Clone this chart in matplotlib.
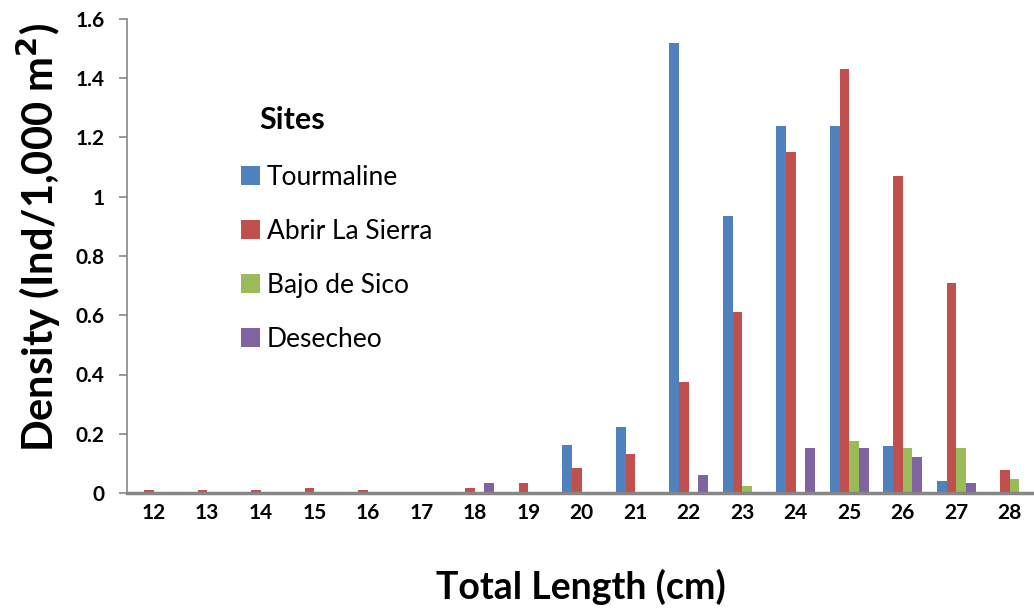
import numpy as np
import matplotlib
matplotlib.use("Agg")
import matplotlib.pyplot as plt
from matplotlib.ticker import FuncFormatter

# data
lengths = [12, 13, 14, 15, 16, 17, 18, 19, 20, 21, 22, 23, 24, 25, 26, 27, 28]
tourmaline = [0, 0, 0, 0, 0, 0, 0, 0, 0.162, 0.222, 1.52, 0.935, 1.24, 1.24, 0.16, 0.04, 0]
abrir = [0.01, 0.01, 0.01, 0.017, 0.01, 0, 0.017, 0.033, 0.085, 0.13, 0.375, 0.61, 1.15, 1.43, 1.07, 0.71, 0.078]
bajo = [0, 0, 0, 0, 0, 0, 0, 0, 0, 0, 0, 0.025, 0, 0.175, 0.153, 0.153, 0.048]
desecheo = [0, 0, 0, 0, 0, 0, 0.033, 0, 0, 0, 0.062, 0, 0.153, 0.153, 0.123, 0.033, 0]

series = [
    ("Tourmaline", tourmaline, "#4F81BD"),
    ("Abrir La Sierra", abrir, "#C0504D"),
    ("Bajo de Sico", bajo, "#9BBB59"),
    ("Desecheo", desecheo, "#8064A2"),
]

plt.rcParams["font.family"] = ["Lato", "DejaVu Sans"]

W, H = 1034, 611
fig = plt.figure(figsize=(W / 100, H / 100), dpi=100)
ax = fig.add_axes([127 / W, 1 - 493 / H, (W - 127) / W, 474 / H])

x = np.arange(len(lengths))
w = 1 / 5.5
for i, (name, vals, col) in enumerate(series):
    ax.bar(x + (i - 1.5) * w, vals, width=w, color=col, label=name)

ax.set_xlim(-0.5, -0.5 + (W - 127) / 53.5)
ax.set_ylim(0, 1.6)
ax.set_yticks(np.arange(0, 1.61, 0.2))
ax.yaxis.set_major_formatter(FuncFormatter(lambda v, p: f"{v:g}"))
ax.set_xticks(x)
ax.set_xticklabels([str(v) for v in lengths])

for s in ["top", "right"]:
    ax.spines[s].set_visible(False)
ax.spines["left"].set_color("#868686")
ax.spines["bottom"].set_color("#868686")
ax.spines["left"].set_linewidth(1.2)
ax.spines["bottom"].set_linewidth(2.5)
ax.tick_params(axis="y", length=6, color="#868686", width=1.2, pad=10, labelsize=15)
ax.tick_params(axis="x", length=0, pad=7, labelsize=15)
for lab in ax.get_xticklabels() + ax.get_yticklabels():
    lab.set_fontweight("bold")

ax.set_ylabel("Density (Ind/1,000 m$^\\mathbf{2}$)", fontsize=30, fontweight="bold",
              va="center")
ax.yaxis.set_label_coords(-0.098, 0.54)
ax.set_xlabel("Total Length (cm)", fontsize=27, fontweight="bold", labelpad=33)

leg = ax.legend(loc="upper left", bbox_to_anchor=(241 / W, 1 - 165 / H),
                bbox_transform=fig.transFigure, frameon=False, fontsize=19,
                borderpad=0, borderaxespad=0,
                handlelength=0.72, handleheight=0.72, handletextpad=0.25, labelspacing=1.1)
fig.text(259 / W, 1 - 120 / H, "Sites", fontsize=22, fontweight="bold", va="center", ha="left")

fig.savefig("out.png", dpi=100)
